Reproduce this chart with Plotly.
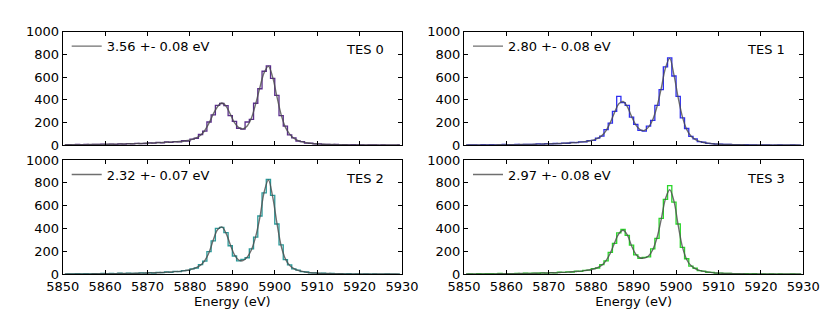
import numpy as np
import plotly.graph_objects as go

# ---- data ----
bin_centers = np.arange(5850.5, 5930.0, 1.0)   # 1 eV bins, 5850..5930 eV

panel_names = ["TES 0", "TES 1", "TES 2", "TES 3"]
fit_labels = ["3.56 +- 0.08 eV", "2.80 +- 0.08 eV", "2.32 +- 0.07 eV", "2.97 +- 0.08 eV"]
x_ticks = [5850, 5860, 5870, 5880, 5890, 5900, 5910, 5920, 5930]
y_ticks = [0, 200, 400, 600, 800, 1000]

counts_tes0 = [3, 6, 4, 7, 5, 8, 6, 9, 7, 10,
               8, 11, 9, 12, 10, 14, 13, 17, 15, 16,
               21, 19, 25, 22, 30, 26, 33, 30, 40, 38,
               55, 62, 95, 125, 205, 268, 352, 368, 350, 262,
               210, 150, 142, 205, 228, 370, 498, 652, 700, 590,
               440, 262, 168, 92, 66, 38, 33, 19, 18, 12,
               13, 8, 9, 6, 7, 4, 6, 3, 5, 3,
               4, 2, 3, 4, 1, 3, 2, 1, 2, 3]
fit_tes0 = [5, 5, 5, 6, 6, 6, 7, 7, 8, 8,
            9, 9, 10, 11, 12, 13, 14, 15, 16, 18,
            19, 21, 23, 25, 27, 29, 31, 33, 36, 42,
            52, 66, 88, 130, 195, 275, 340, 372, 345, 275,
            200, 155, 145, 170, 240, 365, 510, 640, 695, 600,
            430, 270, 160, 98, 62, 42, 30, 22, 17, 13,
            11, 9, 8, 7, 6, 5, 5, 4, 4, 4,
            3, 3, 3, 3, 2, 2, 2, 2, 2, 2]

counts_tes1 = [2, 4, 3, 2, 5, 3, 6, 4, 4, 7,
               5, 5, 8, 6, 9, 7, 8, 12, 10, 14,
               12, 16, 15, 20, 18, 25, 24, 31, 30, 42,
               44, 64, 80, 138, 195, 298, 430, 375, 352, 248,
               185, 132, 124, 168, 220, 352, 490, 690, 770, 610,
               430, 242, 148, 78, 56, 32, 27, 17, 15, 10,
               10, 7, 8, 5, 6, 4, 5, 3, 4, 2,
               3, 4, 1, 2, 3, 1, 2, 3, 1, 2]
fit_tes1 = [3, 3, 3, 3, 4, 4, 4, 4, 5, 5,
            5, 6, 6, 7, 7, 8, 9, 10, 11, 12,
            13, 14, 16, 18, 20, 22, 25, 28, 32, 38,
            46, 60, 85, 130, 200, 290, 365, 385, 340, 255,
            180, 138, 130, 160, 225, 340, 500, 680, 765, 620,
            420, 250, 140, 82, 52, 35, 25, 19, 14, 11,
            9, 8, 7, 6, 5, 5, 4, 4, 3, 3,
            3, 3, 2, 2, 2, 2, 2, 2, 2, 1]

counts_tes2 = [2, 4, 3, 5, 3, 6, 4, 6, 4, 7,
               5, 8, 6, 9, 6, 10, 7, 8, 12, 10,
               14, 11, 16, 14, 22, 17, 26, 24, 33, 34,
               48, 55, 84, 115, 198, 292, 402, 410, 365, 250,
               160, 118, 130, 145, 222, 325, 510, 712, 830, 690,
               440, 258, 128, 82, 47, 36, 23, 20, 12, 12,
               8, 9, 6, 7, 4, 6, 3, 5, 2, 4,
               2, 4, 1, 3, 2, 1, 3, 2, 1, 2]
fit_tes2 = [3, 3, 3, 4, 4, 4, 4, 5, 5, 5,
            6, 6, 6, 7, 7, 8, 8, 9, 10, 11,
            12, 13, 14, 16, 18, 20, 23, 26, 30, 36,
            45, 58, 80, 120, 190, 300, 390, 415, 360, 260,
            170, 125, 120, 150, 215, 330, 500, 720, 825, 680,
            450, 250, 135, 78, 50, 34, 25, 18, 14, 11,
            9, 8, 7, 6, 5, 5, 4, 4, 3, 3,
            3, 3, 2, 2, 2, 2, 2, 2, 2, 1]

counts_tes3 = [2, 4, 2, 5, 3, 5, 6, 3, 7, 4,
               6, 5, 8, 6, 9, 7, 10, 9, 13, 11,
               15, 13, 18, 16, 21, 20, 27, 26, 35, 36,
               50, 55, 85, 118, 192, 270, 362, 392, 340, 255,
               170, 140, 148, 152, 222, 315, 490, 655, 775, 632,
               440, 235, 136, 72, 53, 33, 28, 18, 16, 11,
               11, 7, 8, 5, 6, 4, 5, 3, 5, 2,
               4, 2, 3, 2, 3, 1, 2, 3, 1, 2]
fit_tes3 = [3, 3, 3, 3, 4, 4, 4, 4, 5, 5,
            5, 6, 6, 7, 7, 8, 9, 10, 11, 12,
            13, 14, 16, 17, 19, 22, 25, 28, 32, 38,
            46, 58, 80, 120, 185, 275, 355, 385, 345, 250,
            175, 145, 142, 160, 215, 320, 480, 660, 740, 640,
            430, 240, 130, 76, 50, 35, 26, 20, 15, 12,
            10, 8, 7, 6, 5, 5, 4, 4, 4, 3,
            3, 3, 3, 2, 2, 2, 2, 2, 2, 2]

counts = [counts_tes0, counts_tes1, counts_tes2, counts_tes3]
fits = [fit_tes0, fit_tes1, fit_tes2, fit_tes3]
colors = ["#5a2d8c", "#2f2ff0", "#2b9a9a", "#2ad62a"]

# ---- layout geometry ----
W, H = 830, 316
x_doms = [(62.7 / W, 402.0 / W), (464.0 / W, 803.3 / W)]
y_doms = [((H - 145.3) / H, (H - 31.7) / H), ((H - 274.3) / H, (H - 160.0) / H)]

FONT = "DejaVu Sans"
fig = go.Figure()

for i in range(4):
    row, col = divmod(i, 2)
    ax = "" if i == 0 else str(i + 1)
    xa, ya = "x" + ax, "y" + ax
    legname = "legend" + ax
    fig.add_trace(go.Scatter(
        x=bin_centers, y=counts[i], mode="lines",
        line=dict(shape="hvh", color=colors[i], width=1.3),
        showlegend=False, xaxis=xa, yaxis=ya, hoverinfo="skip"))
    fig.add_trace(go.Scatter(
        x=bin_centers, y=fits[i], mode="lines",
        line=dict(shape="spline", color="rgba(75,75,75,0.8)", width=1.4),
        name=fit_labels[i], showlegend=True, legend=legname,
        xaxis=xa, yaxis=ya))

    axis_common = dict(showline=True, linecolor="black", linewidth=1,
                       mirror="allticks", ticks="inside", ticklen=4,
                       tickcolor="black", showgrid=False, zeroline=False,
                       automargin=False,
                       tickfont=dict(family=FONT, size=13, color="black"))
    fig.layout["xaxis" + ax] = dict(
        domain=x_doms[col], range=[5850, 5930], tickvals=x_ticks,
        showticklabels=(row == 1), anchor=ya,
        title=dict(text="Energy (eV)" if row == 1 else "",
                   font=dict(family=FONT, size=13, color="black"), standoff=0),
        **axis_common)
    fig.layout["yaxis" + ax] = dict(
        domain=y_doms[row], range=[0, 1000], tickvals=y_ticks, anchor=xa,
        **axis_common)

    # legend in upper-left of each panel
    x0_px = x_doms[col][0] * W
    ytop_px = H - y_doms[row][1] * H
    fig.layout[legname] = dict(
        x=(x0_px + 4) / W, y=(H - (ytop_px + 14.5)) / H,
        xanchor="left", yanchor="middle",
        bgcolor="rgba(0,0,0,0)", borderwidth=0,
        font=dict(family=FONT, size=13, color="black"))

    fig.add_annotation(
        text=panel_names[i], xref=xa + " domain", yref=ya + " domain",
        x=0.952, y=0.839, xanchor="right", yanchor="middle", showarrow=False,
        font=dict(family=FONT, size=13, color="black"))

fig.update_layout(
    width=W, height=H, margin=dict(l=0, r=0, t=0, b=0, autoexpand=False),
    paper_bgcolor="white", plot_bgcolor="white",
    font=dict(family=FONT, size=13, color="black"))

fig.write_html("out.html", config={"displayModeBar": False},
               post_script="document.body.style.margin='0px';"
                           "document.body.style.overflow='hidden';")
